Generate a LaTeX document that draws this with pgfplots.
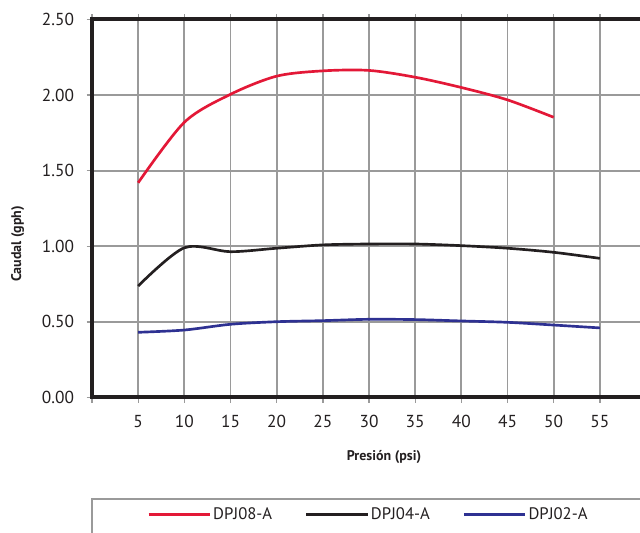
\documentclass[border=0pt]{standalone}
\usepackage{fontspec}
\setmainfont{PT Sans}
\usepackage{pgfplots}
\pgfplotsset{compat=1.18}

\definecolor{rojo}{HTML}{E31837}
\definecolor{azul}{HTML}{2E3192}
\definecolor{negro}{HTML}{231F20}
\definecolor{rejilla}{HTML}{9A9A9A}

\begin{document}
\begin{tikzpicture}
  \begin{axis}[
    scale only axis,
    width=415.5pt, height=283.5pt,
    xmin=0, xmax=60,
    ymin=0, ymax=2.5,
    xtick={0,5,...,60},
    xticklabels={,5,10,15,20,25,30,35,40,45,50,55,},
    ytick={0,0.5,1,1.5,2,2.5},
    yticklabel style={xshift=-6pt, /pgf/number format/.cd, fixed, fixed zerofill, precision=2},
    /pgf/number format/assume math mode=true,
    ticklabel style={font=\fontsize{13}{15}\selectfont, color=negro},
    xticklabel style={yshift=-6pt},
    grid=major,
    grid style={color=rejilla, line width=1.4pt},
    axis line style={line width=3pt, negro},
    tick style={color=rejilla, line width=1pt},
    tick align=outside,
    major tick length=4pt,
    xlabel={\textbf{Presión (psi)}},
    ylabel={\textbf{Caudal (gph)}},
    label style={font=\fontsize{10.5}{12}\selectfont, color=negro},
    xlabel style={at={(axis description cs:0.527,-0.157)}, anchor=center},
    ylabel style={at={(axis description cs:-0.134,0.406)}, anchor=center},
    legend columns=3,
    legend style={
      at={(axis description cs:0.092,-0.309)}, anchor=west,
      draw=none, fill=none,
      font=\fontsize{12.5}{14}\selectfont,
      /tikz/every even column/.append style={column sep=23pt},
      nodes={inner sep=1.5pt, text=negro},
    },
    legend image code/.code={\draw[#1] (0pt,0pt) -- (46pt,0pt);},
  ]
  \addplot[rojo, line width=2pt, smooth] coordinates {
    (5,1.42) (10,1.82) (15,2.005) (20,2.125) (25,2.16) (30,2.163)
    (35,2.118) (40,2.05) (45,1.968) (50,1.853)
  };
  \addlegendentry{DPJ08-A}
  \addplot[negro, line width=2pt, smooth] coordinates {
    (5,0.737) (10,0.99) (15,0.964) (20,0.987) (25,1.009) (30,1.015)
    (35,1.015) (40,1.004) (45,0.987) (50,0.96) (55,0.92)
  };
  \addlegendentry{DPJ04-A}
  \addplot[azul, line width=2pt, smooth] coordinates {
    (5,0.431) (10,0.446) (15,0.484) (20,0.501) (25,0.508) (30,0.517)
    (35,0.515) (40,0.506) (45,0.497) (50,0.479) (55,0.46)
  };
  \addlegendentry{DPJ02-A}
  \end{axis}
  \draw[rejilla, line width=1.2pt]
    ([yshift=-136pt]current axis.south west) -- ++(0,60pt) -- ++(460pt,0);
  \pgfresetboundingbox
  \path[use as bounding box]
    ([xshift=-69pt,yshift=-101.6pt]current axis.south west)
    rectangle ([xshift=-4.5pt,yshift=14.6pt]current axis.north east);
\end{tikzpicture}
\end{document}
